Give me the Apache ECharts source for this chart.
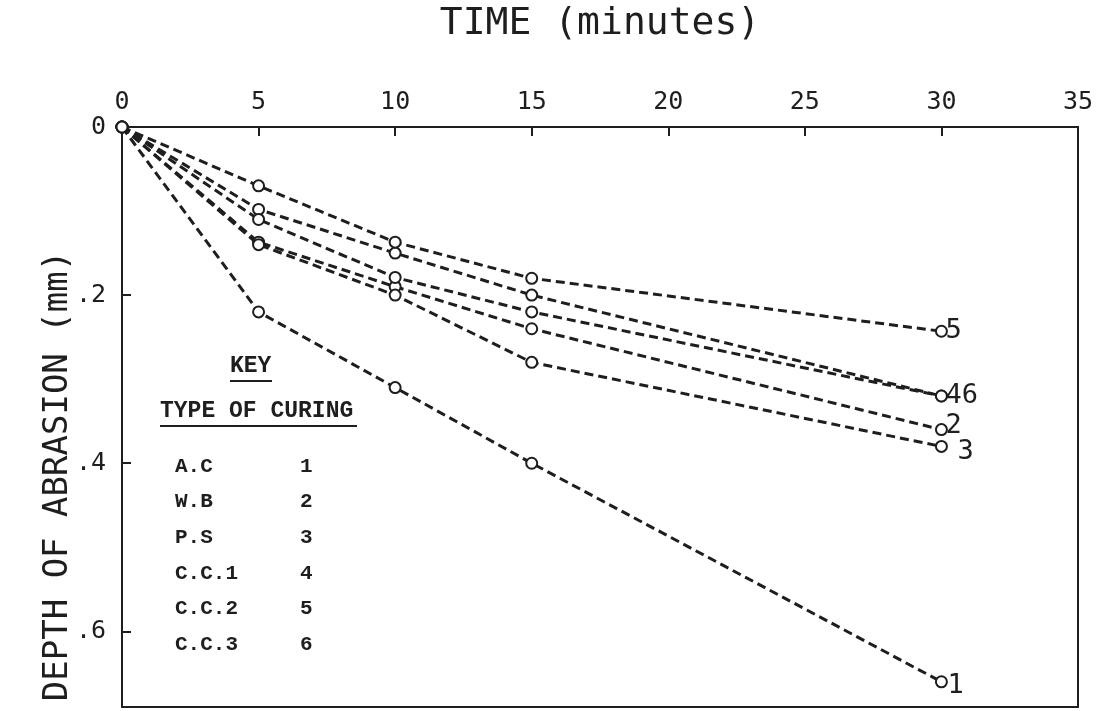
<!DOCTYPE html>
<html>
<head>
<meta charset="utf-8">
<script src="https://cdn.jsdelivr.net/npm/echarts@6/dist/echarts.min.js"></script>
<style>
  html, body { margin: 0; padding: 0; background: #fff; }
  #chart { width: 1104px; height: 711px; }
</style>
</head>
<body>
<div id="chart"></div>
<script>
// time in minutes
var time = [0, 5, 10, 15, 30];
// depth of abrasion (mm) for each type of curing
var depth1 = [0, 0.22, 0.31, 0.40, 0.66];
var depth2 = [0, 0.137, 0.19, 0.24, 0.36];
var depth3 = [0, 0.14, 0.20, 0.28, 0.38];
var depth4 = [0, 0.098, 0.15, 0.20, 0.32];
var depth5 = [0, 0.07, 0.137, 0.18, 0.243];
var depth6 = [0, 0.11, 0.179, 0.22, 0.32];
var endLabels = ["1", "2", "3", "46", "5", ""];
var keyNames = ["A.C", "W.B", "P.S", "C.C.1", "C.C.2", "C.C.3"];
var keyNums = ["1", "2", "3", "4", "5", "6"];

var ink = "#1e1e1e";
var plotFont = "DejaVu Sans Mono";
var keyFont = "Liberation Mono";

var chart = echarts.init(document.getElementById("chart"));

function pairs(ys) {
  return time.map(function (t, i) { return [t, ys[i]]; });
}

var allDepth = [depth1, depth2, depth3, depth4, depth5, depth6];
var endOffsets = [[4, 4], [2, -4], [14, 6], [2, 0], [2, 0], [0, 0]];

var series = allDepth.map(function (ys, i) {
  return {
    name: keyNames[i],
    type: "line",
    data: pairs(ys),
    symbol: "emptyCircle",
    symbolSize: 11,
    showSymbol: true,
    showAllSymbol: true,
    itemStyle: { color: ink, borderColor: ink, borderWidth: 2.5 },
    lineStyle: { color: ink, width: 3, type: [9, 5] },
    z: 3,
    endLabel: {
      show: endLabels[i] !== "",
      formatter: endLabels[i],
      color: ink,
      fontFamily: plotFont,
      fontSize: 27,
      distance: 2,
      offset: endOffsets[i]
    },
    animation: false
  };
});

// key (legend) drawn as text
var keyGraphics = [
  { type: "text", left: 230, top: 355, style: { text: "KEY", font: "bold 23px " + keyFont, fill: ink } },
  { type: "line", shape: { x1: 230, y1: 381, x2: 272, y2: 381 }, style: { stroke: ink, lineWidth: 2 } },
  { type: "text", left: 160, top: 400, style: { text: "TYPE OF CURING", font: "bold 23px " + keyFont, fill: ink } },
  { type: "line", shape: { x1: 160, y1: 426, x2: 357, y2: 426 }, style: { stroke: ink, lineWidth: 2 } },
  {
    type: "text", x: 58, y: 476, rotation: Math.PI / 2,
    style: {
      text: "DEPTH OF ABRASION (mm)", font: "34px " + plotFont, fill: ink,
      align: "center", verticalAlign: "middle"
    }
  }
];
keyNames.forEach(function (n, i) {
  keyGraphics.push({ type: "text", left: 175, top: 456 + i * 35.6, style: { text: n, font: "bold 21px " + keyFont, fill: ink } });
  keyGraphics.push({ type: "text", left: 300, top: 456 + i * 35.6, style: { text: keyNums[i], font: "bold 21px " + keyFont, fill: ink } });
});

var option = {
  backgroundColor: "#fff",
  grid: {
    left: 122,
    top: 122,
    right: 26,
    bottom: 4,
    show: true,
    borderColor: ink,
    borderWidth: 2
  },
  xAxis: {
    type: "value",
    position: "top",
    min: 0,
    max: 35,
    interval: 5,
    name: "TIME (minutes)",
    nameLocation: "middle",
    nameGap: 84,
    nameTextStyle: { fontFamily: plotFont, fontSize: 38, color: ink },
    axisLine: { show: true, lineStyle: { color: ink, width: 2 } },
    axisTick: { show: true, inside: true, length: 9, lineStyle: { color: ink, width: 2 } },
    axisLabel: { fontFamily: plotFont, fontSize: 25, color: ink, margin: 12 },
    splitLine: { show: false }
  },
  yAxis: {
    type: "value",
    inverse: true,
    min: 0,
    max: 0.69,
    interval: 0.2,
    axisLine: { show: true, lineStyle: { color: ink, width: 2 } },
    axisTick: { show: true, inside: true, length: 9, lineStyle: { color: ink, width: 2 } },
    axisLabel: {
      fontFamily: plotFont,
      fontSize: 25,
      color: ink,
      margin: 16,
      showMaxLabel: false,
      formatter: function (v) {
        if (v === 0) return "0";
        var r = Math.round(v * 10) / 10;
        if (Math.abs(r - v) > 1e-6) return "";
        return "." + Math.round(v * 10);
      }
    },
    splitLine: { show: false }
  },
  graphic: keyGraphics,
  series: series
};

chart.setOption(option);
</script>
</body>
</html>
